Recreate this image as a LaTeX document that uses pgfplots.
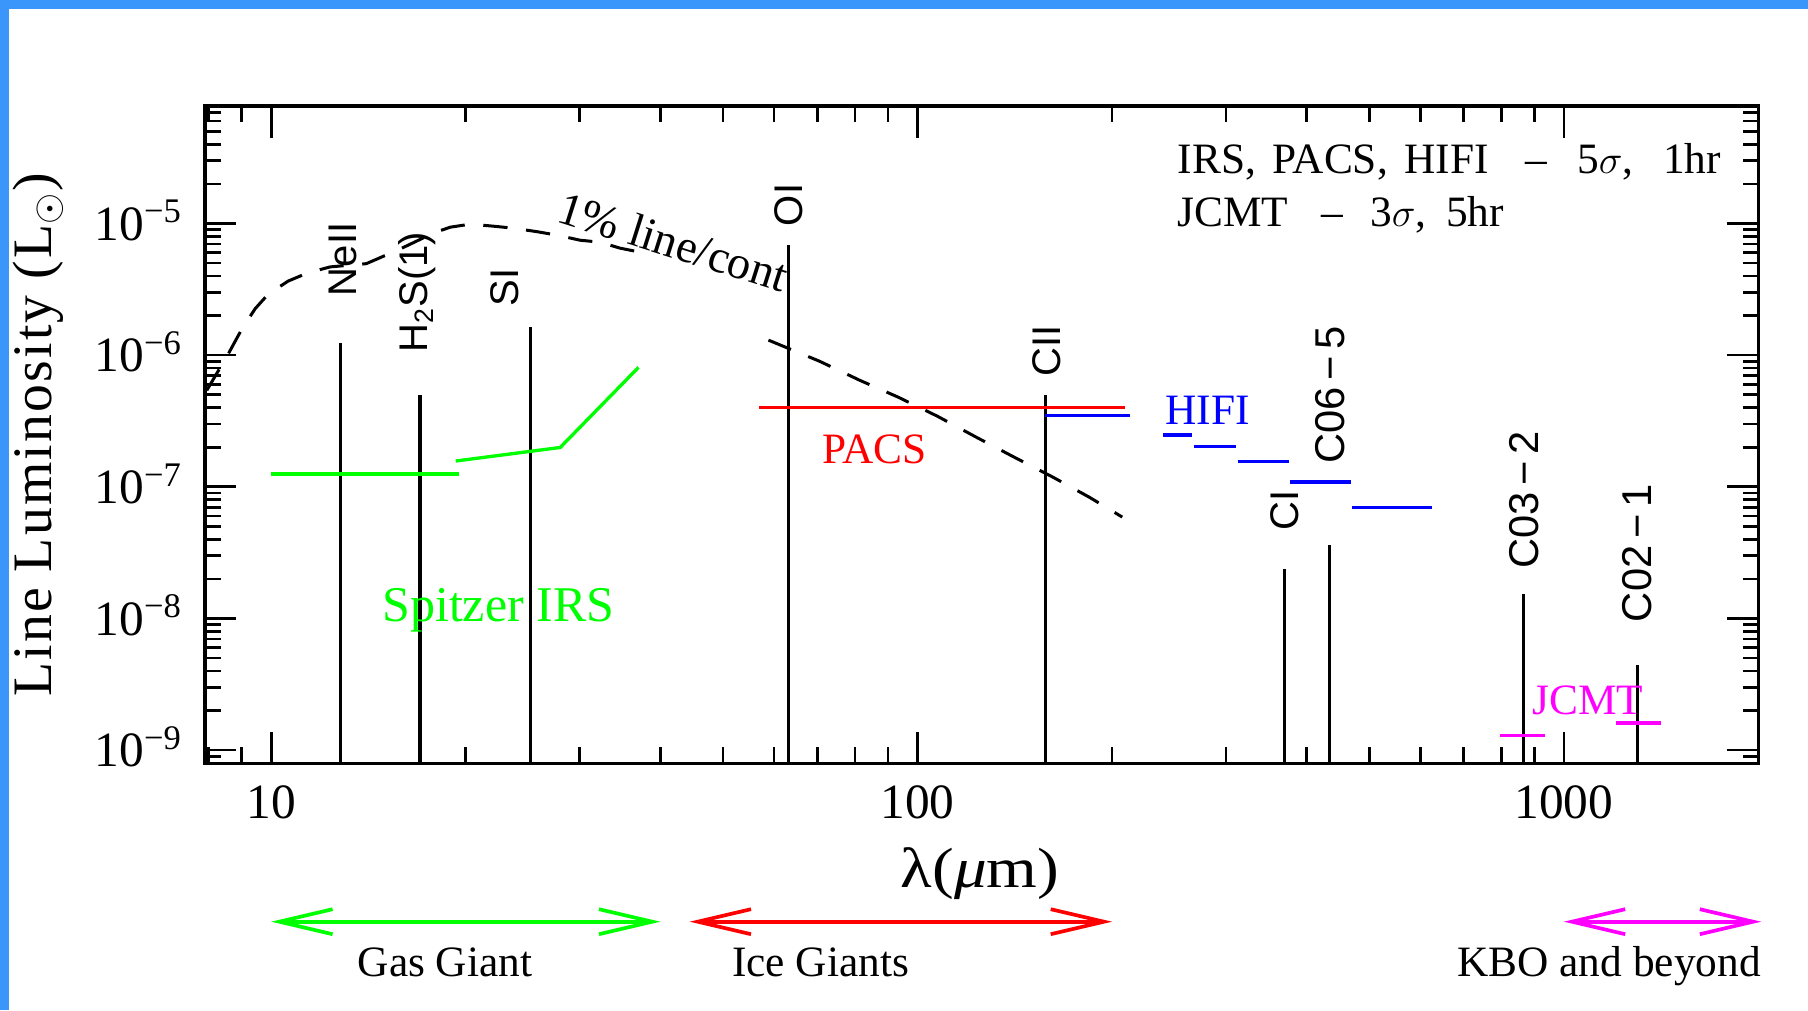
\documentclass[border=0pt]{standalone}
\usepackage{pgfplots}
\pgfplotsset{compat=1.18}
\usepackage{fontspec}
\setmainfont{Liberation Serif}
\newfontfamily\sansf{Liberation Sans}
\usetikzlibrary{arrows.meta}
\definecolor{frameblue}{RGB}{58,150,250}
\definecolor{pgreen}{RGB}{0,255,0}
\definecolor{pred}{RGB}{255,0,0}
\definecolor{pblue}{RGB}{0,0,255}
\definecolor{pmag}{RGB}{255,0,255}
\newcommand{\fs}[1]{\fontsize{#1}{#1}\selectfont}
\tikzset{dbl/.style={line width=1.1pt,arrows={Straight Barb[length=16pt,width=7.5pt]-Straight Barb[length=16pt,width=7.5pt]}}}
\begin{document}
\begin{tikzpicture}
\fill[frameblue] (0,0) rectangle (542.4pt,303pt);
\fill[white] (2.7pt,0) rectangle (542.4pt,300.3pt);
\begin{axis}[
  at={(61.5pt,74.0pt)}, anchor=south west,
  scale only axis, width=466pt, height=197.2pt,
  xmode=log, ymode=log,
  xmin=7.9, xmax=2000, ymin=7.94e-10, ymax=7.8e-5,
  clip=false,
  axis line style={line width=1pt},
  tick align=inside,
  major tick length=9.5pt, minor tick length=4.8pt,
  tick style={black, line width=0.8pt},
  xtick={10,100,1000}, xticklabels={10,100,1000},
  minor xtick={8,9,20,30,40,50,60,70,80,90,200,300,400,500,600,700,800,900},
  ytick={1e-9,1e-8,1e-7,1e-6,1e-5},
  yticklabels={10\textsuperscript{−9},10\textsuperscript{−8},10\textsuperscript{−7},10\textsuperscript{−6},10\textsuperscript{−5}},
  minor ytick={9e-10,2e-9,3e-9,4e-9,5e-9,6e-9,7e-9,8e-9,9e-9,2e-8,3e-8,4e-8,5e-8,6e-8,7e-8,8e-8,9e-8,2e-7,3e-7,4e-7,5e-7,6e-7,7e-7,8e-7,9e-7,2e-6,3e-6,4e-6,5e-6,6e-6,7e-6,8e-6,9e-6,2e-5,3e-5,4e-5,5e-5,6e-5,7e-5},
  xticklabel style={font=\fs{14.8}, yshift=-3.1pt},
  yticklabel style={font=\fs{14.8}, anchor=base east, yshift=-5pt, xshift=-3.2pt},
]
% spectral lines
\addplot[black, line width=1pt] coordinates {(12.8,7.94e-10) (12.8,1.23e-6)};
\addplot[black, line width=1pt] coordinates {(17.0,7.94e-10) (17.0,4.97e-7)};
\addplot[black, line width=1pt] coordinates {(25.2,7.94e-10) (25.2,1.64e-6)};
\addplot[black, line width=1pt] coordinates {(63.2,7.94e-10) (63.2,6.9e-6)};
\addplot[black, line width=1pt] coordinates {(157.7,7.94e-10) (157.7,5.0e-7)};
\addplot[black, line width=1pt] coordinates {(370,7.94e-10) (370,2.36e-8)};
\addplot[black, line width=1pt] coordinates {(434,7.94e-10) (434,3.62e-8)};
\addplot[black, line width=1pt] coordinates {(867,7.94e-10) (867,1.54e-8)};
\addplot[black, line width=1pt] coordinates {(1300,7.94e-10) (1300,4.43e-9)};
% 1% line/cont curve
\addplot[black, line width=0.9pt, dash pattern=on 7.3pt off 5.6pt] coordinates {
(7.95,5.4e-7) (8.58,1.02e-6) (9.02,1.6e-6) (9.45,2.26e-6) (9.89,2.9e-6) (10.62,3.65e-6)
(11.37,4.2e-6) (12.34,4.68e-6) (14.03,4.95e-6) (15.83,6.4e-6) (17.81,8.44e-6) (18.92,9.37e-6)
(20.32,9.88e-6) (22.06,9.54e-6) (23.69,9.21e-6) (25.79,8.66e-6) (27.70,8.15e-6) (30.07,7.46e-6)
(32.29,7.21e-6) (34.67,6.49e-6) (37.24,6.05e-6)};
\addplot[black, line width=0.9pt, dash pattern=on 7.3pt off 5.6pt] coordinates {
(58.8,1.30e-6) (70.5,9.0e-7) (81.3,6.46e-7) (93.3,4.80e-7) (107.3,3.44e-7) (123.3,2.38e-7)
(141.1,1.68e-7) (162.2,1.18e-7) (184.4,8.34e-8) (207.4,5.89e-8)};
% Spitzer IRS
\addplot[pgreen, line width=1pt] coordinates {(10,1.25e-7) (19.5,1.25e-7)};
\addplot[pgreen, line width=1pt] coordinates {(19.3,1.57e-7) (28.0,1.99e-7) (37.0,8.07e-7)};
% PACS
\addplot[pred, line width=1pt] coordinates {(56.9,4.0e-7) (209.6,4.0e-7)};
% HIFI
\addplot[pblue, line width=1pt] coordinates {(157.6,3.5e-7) (212.8,3.5e-7)};
\addplot[pblue, line width=1pt] coordinates {(239.7,2.48e-7) (266.1,2.48e-7)};
\addplot[pblue, line width=1pt] coordinates {(268,2.03e-7) (311.3,2.03e-7)};
\addplot[pblue, line width=1pt] coordinates {(312.7,1.56e-7) (375.3,1.56e-7)};
\addplot[pblue, line width=1pt] coordinates {(376.9,1.09e-7) (468,1.09e-7)};
\addplot[pblue, line width=1pt] coordinates {(469.4,6.97e-8) (625.2,6.97e-8)};
% JCMT
\addplot[pmag, line width=1pt] coordinates {(798,1.29e-9) (934,1.29e-9)};
\addplot[pmag, line width=1pt] coordinates {(1205,1.61e-9) (1416,1.61e-9)};
% regime arrows
\addplot[pgreen, dbl] coordinates {(10,4.98e-11) (40,4.98e-11)};
\addplot[pred, dbl] coordinates {(44.4,4.98e-11) (200,4.98e-11)};
\addplot[pmag, dbl] coordinates {(1000,4.98e-11) (2020,4.98e-11)};
\end{axis}
\begin{scope}[x=0.3pt,y=0.3pt]
% line labels
\node[rotate=90, anchor=west, inner sep=0, font=\sansf\fs{12}] at (343,713.3) {NeII};
\node[rotate=90, anchor=west, inner sep=0, font=\sansf\fs{12}] at (416.7,656.7) {H\textsubscript{2}S(1)};
\node[rotate=90, anchor=west, inner sep=0, font=\sansf\fs{12}] at (505,703.3) {SI};
\node[rotate=90, anchor=west, inner sep=0, font=\sansf\fs{12}] at (788.3,783.3) {OI};
\node[rotate=90, anchor=west, inner sep=0, font=\sansf\fs{12}] at (1046.7,633.3) {CII};
\node[rotate=90, anchor=west, inner sep=0, font=\sansf\fs{12}] at (1285,478.6) {CI};
\node[rotate=90, anchor=west, inner sep=0, font=\sansf\fs{12.5}] at (1330.4,545.4) {C06\hspace{2pt}−\hspace{2pt}5};
\node[rotate=90, anchor=west, inner sep=0, font=\sansf\fs{12.5}] at (1524.3,440.7) {C03\hspace{2pt}−\hspace{2pt}2};
\node[rotate=90, anchor=west, inner sep=0, font=\sansf\fs{12.5}] at (1637.6,387.3) {C02\hspace{2pt}−\hspace{2pt}1};
% annotations
\node[anchor=base west, inner sep=0, font=\fs{13}] at (1177,836) {IRS,\hspace{5pt}PACS,\hspace{5pt}HIFI\hspace{11pt}--\hspace{9pt}5$\sigma$,\hspace{9pt}1hr};
\node[anchor=base west, inner sep=0, font=\fs{13}] at (1177,783) {JCMT\hspace{10pt}--\hspace{8pt}3$\sigma$,\hspace{6pt}5hr};
\node[anchor=base west, inner sep=0, font=\fs{13}, text=pred] at (821.7,546.7) {PACS};
\node[anchor=base west, inner sep=0, font=\fs{13}, text=pblue] at (1164.7,585.5) {HIFI};
\node[anchor=base west, inner sep=0, font=\fs{13}, text=pmag] at (1531.9,296) {JCMT};
\node[anchor=base west, inner sep=0, font=\fs{15}, text=pgreen] at (381.7,388.3) {Spitzer IRS};
\node[anchor=base west, inner sep=0, rotate=-17.6, font=\fs{14}] at (555,789) {1\% line/cont};
% bottom labels
\node[anchor=base, inner sep=0, font=\fs{13}] at (445,34) {Gas Giant};
\node[anchor=base, inner sep=0, font=\fs{13}] at (820.5,34) {Ice Giants};
\node[anchor=base, inner sep=0, font=\fs{13}] at (1609,34) {KBO and beyond};
% axis labels
\node[inner sep=0, font={\fs{17}\addfontfeature{FakeStretch=1.15}}] at (980,136) {λ(\textit{μ}m)};
\node[rotate=90, inner sep=0, font={\fs{16.7}\addfontfeature{LetterSpace=4}}] at (38,575) {Line Luminosity (L$_\odot$)};
\end{scope}
\pgfresetboundingbox
\path[use as bounding box] (0,0) rectangle (542.4pt,303pt);
\end{tikzpicture}
\end{document}
